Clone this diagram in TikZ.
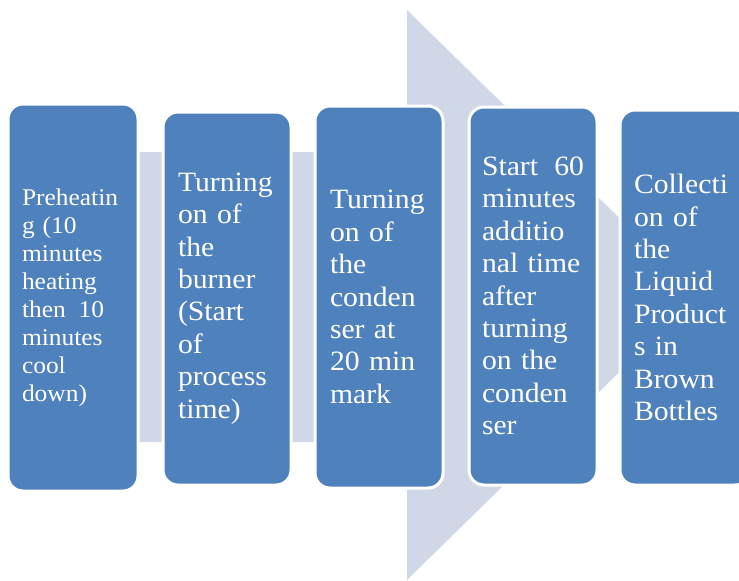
\documentclass[tikz,border=0pt]{standalone}
\usepackage{fontspec}
\newfontfamily\boxfont[FakeStretch=1.06]{Liberation Serif}
\definecolor{boxblue}{HTML}{4F81BD}
\definecolor{arrowgray}{HTML}{D0D8E8}
\begin{document}
\begin{tikzpicture}[x=1pt,y=-1pt,
  stepbox/.style={draw=white, line width=3pt, fill=boxblue, rounded corners=15pt,
    text=white, align=left, anchor=center, inner ysep=0pt,
    font=\boxfont\fontsize{28}{32.4}\selectfont},
  smallfont/.style={font=\boxfont\fontsize{24}{28}\selectfont},
]
\useasboundingbox (0,0) rectangle (739,581);
\clip (0,0) rectangle (739,581);
\fill[white] (0,0) rectangle (739,581);
% background arrow
\fill[arrowgray] (8,152) -- (407,152) -- (407,10) -- (698,295) -- (407,580)
  -- (407,442) -- (8,442) -- cycle;
% boxes
\node[stepbox, smallfont, minimum width=130pt, minimum height=387pt, text width=102pt, inner xsep=14pt]
  (b1) at (73,297.5) {Preheatin\\g (10\\minutes\\heating\\\mbox{then\hspace{0.2em} 10}\\minutes\\cool\\down)};
\node[stepbox, minimum width=128pt, minimum height=373pt, text width=98pt, inner xsep=15pt]
  (b2) at (227,298.5) {Turning\\on of\\the\\burner\\(Start\\of\\process\\time)};
\node[stepbox, minimum width=128pt, minimum height=382pt, text width=98pt, inner xsep=15pt]
  (b3) at (379,297) {Turning\\on of\\the\\conden\\ser at\\20 min\\mark};
\node[stepbox, minimum width=128pt, minimum height=378pt, text width=102pt, inner xsep=13pt]
  (b4) at (533,296) {\mbox{Start\hspace{0.25em} 60}\\minutes\\additio\\nal time\\after\\turning\\on the\\conden\\ser};
\node[stepbox, minimum width=130pt, minimum height=375pt, text width=102pt, inner xsep=14pt]
  (b5) at (685,297.5) {Collecti\\on of\\the\\Liquid\\Product\\s in\\Brown\\Bottles};
\end{tikzpicture}
\end{document}
